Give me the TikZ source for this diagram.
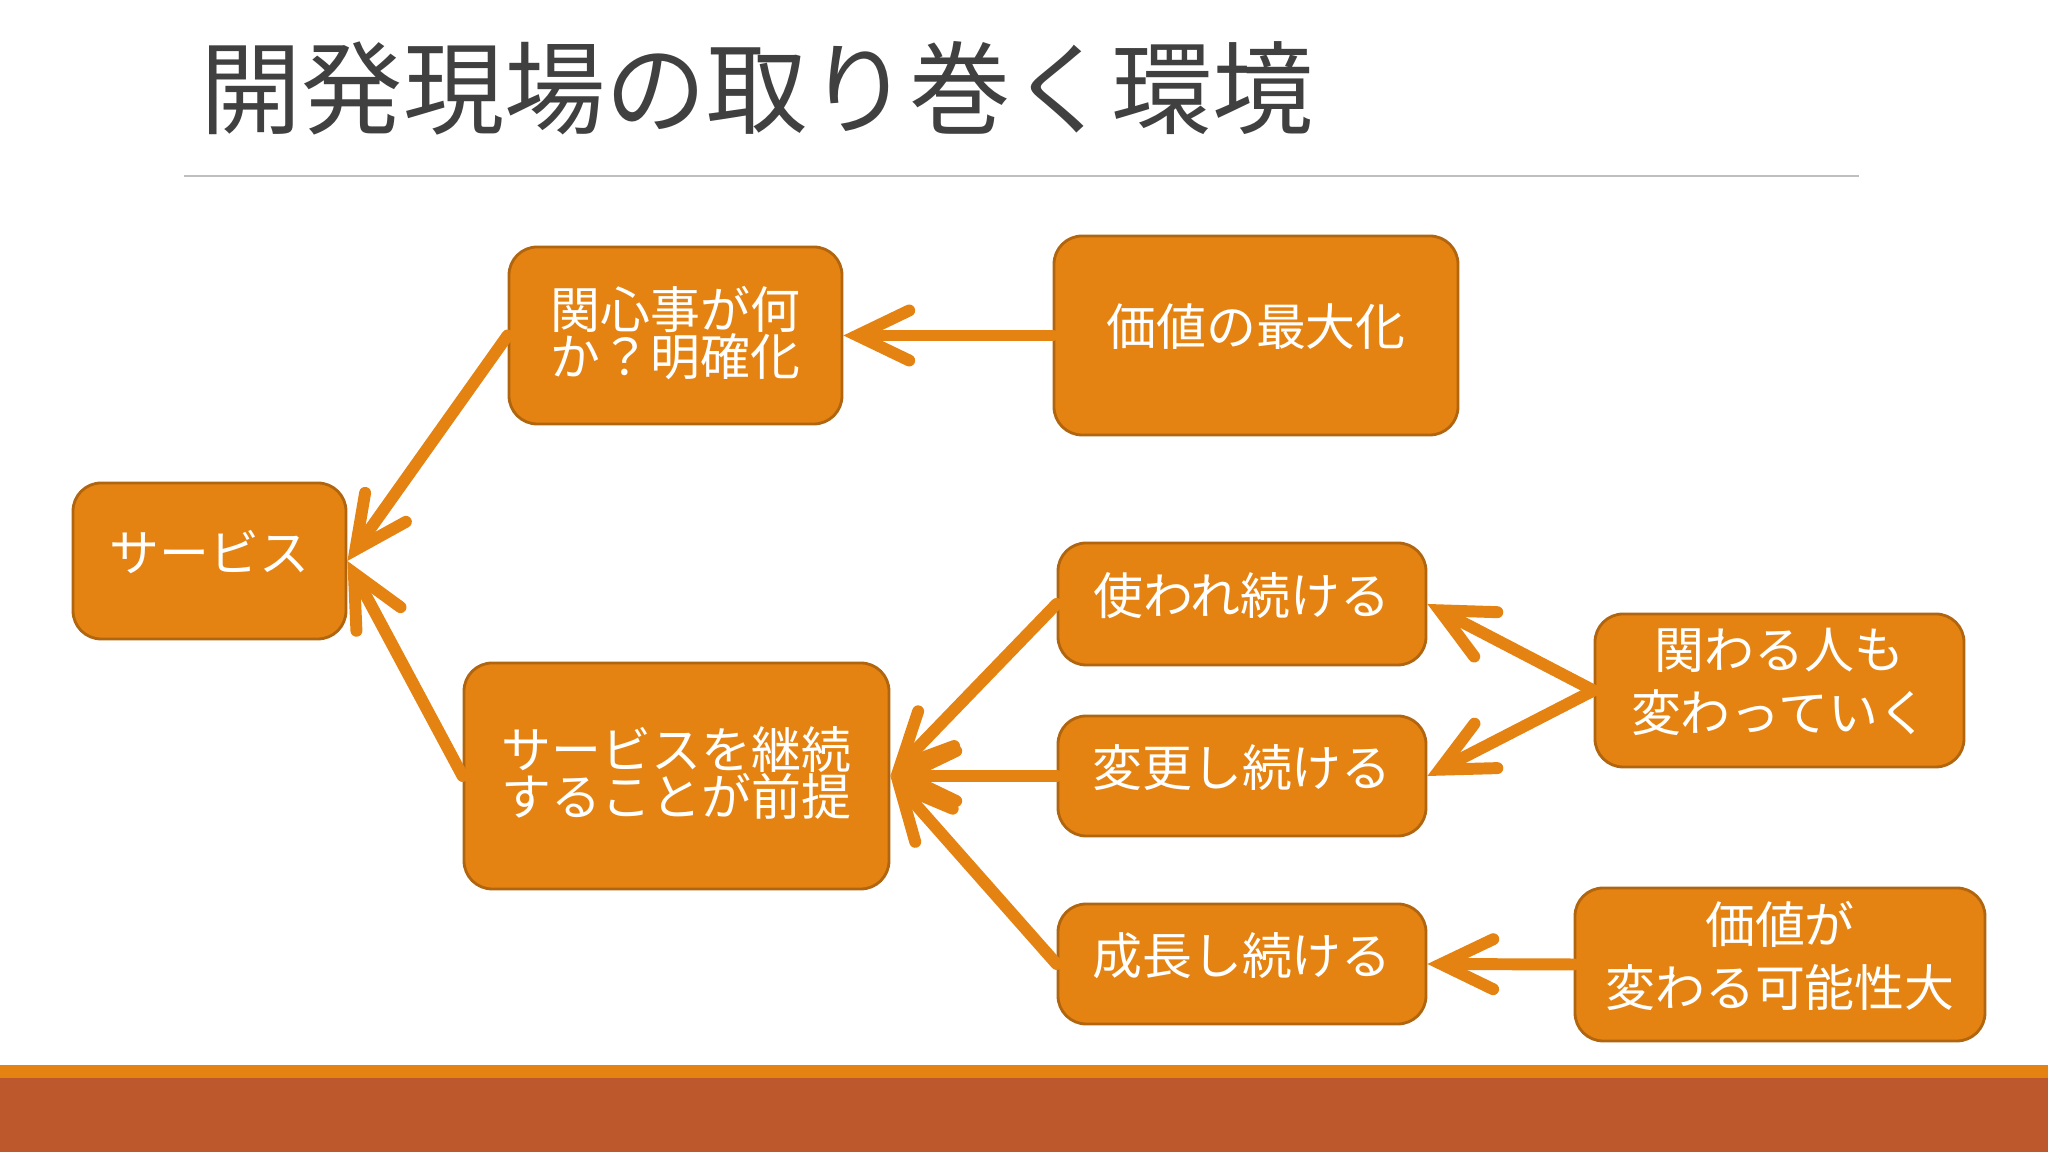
\documentclass[tikz,border=0pt]{standalone}
\usepackage{fontspec}
\setmainfont{Noto Sans CJK JP}
\usepackage{xcolor}
\definecolor{acc}{HTML}{E48312}
\definecolor{accD}{HTML}{B0650E}
\definecolor{rust}{HTML}{BD582C}
\definecolor{ink}{HTML}{404040}
\usetikzlibrary{arrows.meta}

\begin{document}
\begin{tikzpicture}[
  box/.style={draw=accD, line width=0.8pt, fill=acc, rounded corners=8pt, align=center,
    text=white, inner sep=0pt, text depth=6pt, font=\fontsize{14.2}{13.4}\selectfont},
  tight/.style={text depth=2.6pt},
  wide/.style={font=\fontsize{14.2}{17.8}\selectfont},
  arr/.style={-{Straight Barb[length=5.2mm, width=5mm, line cap=round]}, line width=3.4pt, acc, line cap=round}]
\useasboundingbox (0,0) rectangle (20.48,11.52);
\fill[white] (0,0) rectangle (20.48,11.52);
% title and rule
\node[anchor=west, text=ink, font=\fontsize{28.8}{30}\selectfont, inner sep=0pt] (title) at (2.0,10.64) {開発現場の取り巻く環境};
\draw[black!25, line width=0.6pt] (1.84,9.76) -- (18.59,9.76);
% footer bands
\fill[rust] (0,0) rectangle (20.48,0.74);
\fill[acc] (0,0.74) rectangle (20.48,0.87);
% boxes
\node[box, minimum width=2.73cm, minimum height=1.56cm] (svc) at (2.095,5.91) {サービス};
\node[box, tight, minimum width=3.33cm, minimum height=1.77cm] (focus) at (6.755,8.165) {関心事が何\\か？明確化};
\node[box, minimum width=4.04cm, minimum height=1.99cm] (value) at (12.56,8.165) {価値の最大化};
\node[box, tight, minimum width=4.25cm, minimum height=2.26cm] (premise) at (6.765,3.76) {サービスを継続\\することが前提};
\node[box, minimum width=3.68cm, minimum height=1.22cm] (used) at (12.42,5.48) {使われ続ける};
\node[box, minimum width=3.68cm, minimum height=1.20cm] (change) at (12.42,3.76) {変更し続ける};
\node[box, minimum width=3.68cm, minimum height=1.20cm] (grow) at (12.42,1.88) {成長し続ける};
\node[box, wide, minimum width=3.69cm, minimum height=1.53cm] (people) at (17.795,4.615) {関わる人も\\変わっていく};
\node[box, wide, minimum width=4.10cm, minimum height=1.53cm] (shift) at (17.80,1.875) {価値が\\変わる可能性大};
% connectors
\draw[arr] (focus.west) -- (svc.east);
\draw[arr] (premise.west) -- (svc.east);
\draw[arr] (value.west) -- (focus.east);
\draw[arr] (used.west) -- (premise.east);
\draw[arr] (change.west) -- (premise.east);
\draw[arr] (grow.west) -- (premise.east);
\draw[arr] (people.west) -- (used.east);
\draw[arr] (people.west) -- (change.east);
\draw[arr] (shift.west) -- (grow.east);
\end{tikzpicture}
\end{document}
